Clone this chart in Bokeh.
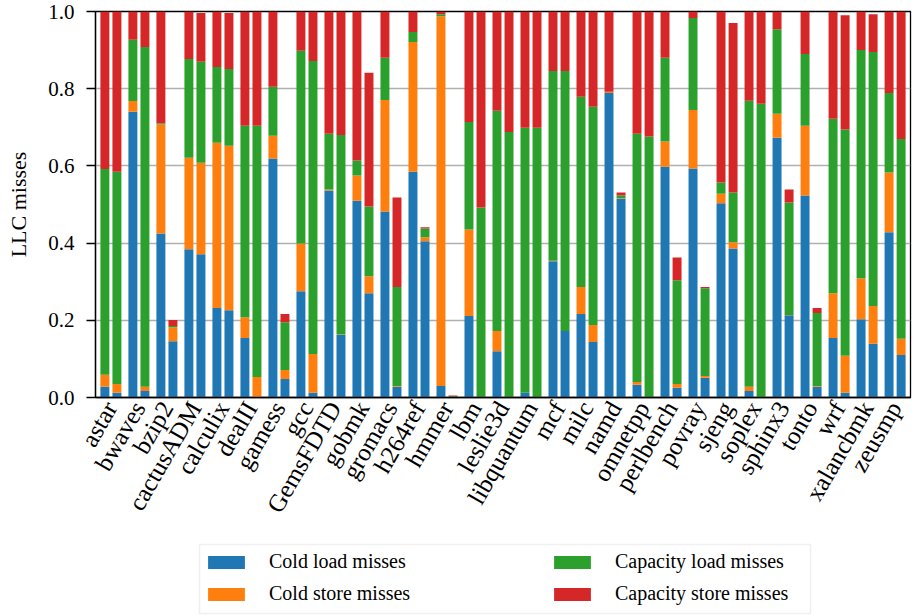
import math
from bokeh.plotting import figure
from bokeh.models import (ColumnDataSource, Range1d, FixedTicker, PrintfTickFormatter,
                          Legend, LegendItem, BoxAnnotation)
from bokeh.layouts import column
from bokeh.embed import file_html
from bokeh.resources import INLINE

benchmarks = ["astar", "bwaves", "bzip2", "cactusADM", "calculix", "dealII", "gamess",
              "gcc", "GemsFDTD", "gobmk", "gromacs", "h264ref", "hmmer", "lbm",
              "leslie3d", "libquantum", "mcf", "milc", "namd", "omnetpp", "perlbench",
              "povray", "sjeng", "soplex", "sphinx3", "tonto", "wrf", "xalancbmk", "zeusmp"]

series_names = ["Cold load misses", "Cold store misses", "Capacity load misses",
                "Capacity store misses"]
colors = ["#1f77b4", "#ff7f0e", "#2ca02c", "#d62728"]

# first bar of each pair
cold_load_a = [0.028, 0.740, 0.425, 0.384, 0.232, 0.154, 0.619, 0.275, 0.536, 0.510,
               0.482, 0.585, 0.030, 0.211, 0.120, 0.012, 0.353, 0.216, 0.789, 0.033,
               0.598, 0.593, 0.503, 0.017, 0.673, 0.523, 0.154, 0.203, 0.428]
cold_store_a = [0.031, 0.028, 0.282, 0.237, 0.428, 0.054, 0.059, 0.124, 0.003, 0.065,
                0.289, 0.336, 0.958, 0.224, 0.052, 0.000, 0.001, 0.070, 0.003, 0.007,
                0.065, 0.152, 0.025, 0.011, 0.062, 0.181, 0.116, 0.106, 0.155]
cap_load_a = [0.533, 0.159, 0.003, 0.256, 0.196, 0.496, 0.127, 0.499, 0.144, 0.039,
              0.109, 0.026, 0.005, 0.279, 0.571, 0.687, 0.492, 0.493, 0.000, 0.643,
              0.217, 0.238, 0.029, 0.741, 0.219, 0.186, 0.452, 0.591, 0.206]
cap_store_a = [0.408, 0.073, 0.290, 0.123, 0.144, 0.296, 0.195, 0.102, 0.317, 0.386,
               0.120, 0.053, 0.007, 0.286, 0.257, 0.301, 0.154, 0.221, 0.208, 0.317,
               0.120, 0.017, 0.443, 0.231, 0.046, 0.110, 0.278, 0.100, 0.211]

# second bar of each pair
cold_load_b = [0.012, 0.017, 0.146, 0.371, 0.226, 0.002, 0.048, 0.012, 0.162, 0.270,
               0.028, 0.405, 0.001, 0.000, 0.000, 0.000, 0.172, 0.144, 0.515, 0.000,
               0.025, 0.051, 0.386, 0.000, 0.213, 0.028, 0.012, 0.139, 0.110]
cold_store_b = [0.023, 0.011, 0.036, 0.237, 0.426, 0.051, 0.023, 0.101, 0.001, 0.044,
                0.002, 0.010, 0.000, 0.000, 0.000, 0.000, 0.000, 0.044, 0.001, 0.000,
                0.010, 0.005, 0.016, 0.000, 0.001, 0.002, 0.096, 0.098, 0.042]
cap_load_b = [0.550, 0.880, 0.003, 0.262, 0.199, 0.651, 0.124, 0.759, 0.517, 0.181,
              0.256, 0.023, 0.002, 0.492, 0.688, 0.699, 0.674, 0.565, 0.007, 0.676,
              0.269, 0.227, 0.129, 0.761, 0.291, 0.189, 0.586, 0.658, 0.518]
cap_store_b = [0.415, 0.092, 0.016, 0.126, 0.145, 0.296, 0.021, 0.128, 0.320, 0.346,
               0.232, 0.003, 0.002, 0.508, 0.312, 0.301, 0.154, 0.247, 0.008, 0.324,
               0.059, 0.003, 0.439, 0.239, 0.034, 0.013, 0.296, 0.098, 0.330]

y_ticks = [0.0, 0.2, 0.4, 0.6, 0.8, 1.0]

FONT = "Liberation Serif"
OFFSET = 0.215
BAR_W = 0.32

idx = list(range(len(benchmarks)))
stack_keys = ["cl", "cs", "pl", "ps"]
src_a = ColumnDataSource(dict(x=[i - OFFSET for i in idx], cl=cold_load_a, cs=cold_store_a,
                              pl=cap_load_a, ps=cap_store_a))
src_b = ColumnDataSource(dict(x=[i + OFFSET for i in idx], cl=cold_load_b, cs=cold_store_b,
                              pl=cap_load_b, ps=cap_store_b))

p = figure(width=914, height=540, output_backend="svg", toolbar_location=None,
           x_range=Range1d(-0.55, len(benchmarks) - 0.45), y_range=Range1d(0, 1),
           min_border_left=95, min_border_right=4, min_border_top=11, min_border_bottom=143)

p.vbar_stack(stack_keys, x="x", width=BAR_W, fill_color=colors, line_color=None, source=src_a)
p.vbar_stack(stack_keys, x="x", width=BAR_W, fill_color=colors, line_color=None, source=src_b)

p.xgrid.visible = False
p.ygrid.ticker = FixedTicker(ticks=y_ticks)
p.ygrid.grid_line_color = "#b0b0b0"
p.ygrid.grid_line_width = 1.3

p.outline_line_color = "black"
p.outline_line_width = 1.3

xa = p.xaxis[0]
xa.ticker = FixedTicker(ticks=idx)
xa.major_label_overrides = {i: n for i, n in zip(idx, benchmarks)}
xa.major_label_orientation = math.pi / 3
xa.major_tick_out = 0
xa.major_tick_in = 0
xa.minor_tick_line_color = None
xa.axis_line_color = "black"
xa.axis_line_width = 1.3
xa.major_label_standoff = 6
xa.major_label_text_font = FONT
xa.major_label_text_font_size = "25px"
xa.major_label_text_color = "black"

ya = p.yaxis[0]
ya.ticker = FixedTicker(ticks=y_ticks)
ya.formatter = PrintfTickFormatter(format="%.1f")
ya.major_tick_out = 9
ya.major_tick_in = 0
ya.major_tick_line_width = 1.3
ya.minor_tick_line_color = None
ya.axis_line_color = "black"
ya.axis_line_width = 1.3
ya.major_label_standoff = 12
ya.major_label_text_font = FONT
ya.major_label_text_font_size = "21px"
ya.major_label_text_color = "black"
ya.axis_label = "LLC misses"
ya.axis_label_text_font = FONT
ya.axis_label_text_font_size = "22px"
ya.axis_label_text_font_style = "normal"
ya.axis_label_text_color = "black"
ya.axis_label_standoff = 14

# legend strip below the chart (ranges in page pixels: x across the frame, y up from bottom)
p2 = figure(width=914, height=76, output_backend="svg", toolbar_location=None,
            x_range=Range1d(95, 910), y_range=Range1d(0, 76),
            x_axis_location=None, y_axis_location=None, min_border=0)
p2.xgrid.visible = False
p2.ygrid.visible = False
p2.outline_line_color = None

# zero-height proxy glyphs that only provide legend swatches
dummy = [p2.vbar(x=[500], top=[0], bottom=[0], width=1, fill_color=c, line_color=None)
         for c in colors]

p2.add_layout(BoxAnnotation(left=199, right=810, bottom=3, top=72,
                            fill_color="white", fill_alpha=1,
                            line_color="#cccccc", line_width=1.5, level="underlay"))


def make_legend(items, loc):
    lg = Legend(items=items, location=loc, orientation="vertical")
    lg.label_text_font = FONT
    lg.label_text_font_size = "20px"
    lg.label_text_color = "black"
    lg.glyph_width = 46
    lg.glyph_height = 16
    lg.label_standoff = 20
    lg.padding = 9
    lg.spacing = 9
    lg.margin = 0
    lg.label_height = 20
    lg.border_line_color = None
    lg.background_fill_alpha = 0
    return lg


leg1 = make_legend([LegendItem(label=series_names[0], renderers=[dummy[0]]),
                    LegendItem(label=series_names[1], renderers=[dummy[1]])], (108, 11))
leg2 = make_legend([LegendItem(label=series_names[2], renderers=[dummy[2]]),
                    LegendItem(label=series_names[3], renderers=[dummy[3]])], (454, 11))
p2.add_layout(leg1)
p2.add_layout(leg2)

layout = column(p, p2, spacing=0)
open("out.html", "w").write(file_html(layout, INLINE))
